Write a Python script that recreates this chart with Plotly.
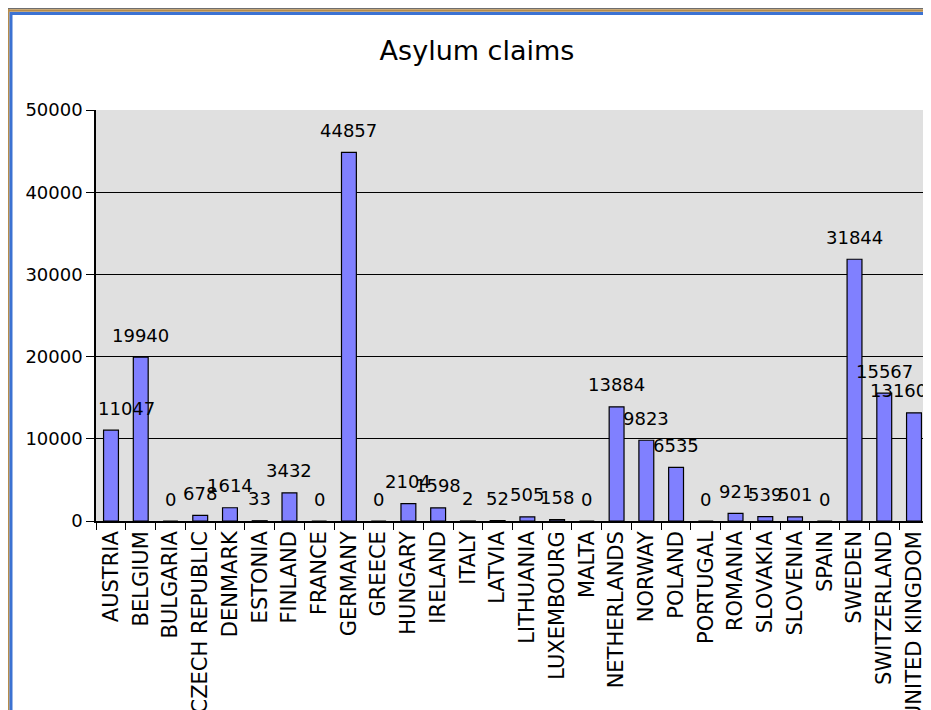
import plotly.graph_objects as go

countries = ["AUSTRIA", "BELGIUM", "BULGARIA", "CZECH REPUBLIC", "DENMARK", "ESTONIA",
             "FINLAND", "FRANCE", "GERMANY", "GREECE", "HUNGARY", "IRELAND", "ITALY",
             "LATVIA", "LITHUANIA", "LUXEMBOURG", "MALTA", "NETHERLANDS", "NORWAY",
             "POLAND", "PORTUGAL", "ROMANIA", "SLOVAKIA", "SLOVENIA", "SPAIN", "SWEDEN",
             "SWITZERLAND", "UNITED KINGDOM"]
claims = [11047, 19940, 0, 678, 1614, 33, 3432, 0, 44857, 0, 2104, 1598, 2, 52, 505,
          158, 0, 13884, 9823, 6535, 0, 921, 539, 501, 0, 31844, 15567, 13160]
y_ticks = [0, 10000, 20000, 30000, 40000, 50000]

# the page body has an 8px default margin; the figure is sized to fill the rest
OFF = 8
W, H = 931 - OFF, 710 - OFF
L, R, T, B = 96 - OFF, 2, 110 - OFF, 189
pw, ph = W - L - R, H - T - B

FONT = "DejaVu Sans"

fig = go.Figure()
fig.add_trace(go.Bar(
    x=countries, y=claims,
    marker=dict(color="#8080FF", line=dict(color="#000000", width=1.2)),
    hoverinfo="x+y",
))

annotations = []
n = len(countries)
for i, (c, v) in enumerate(zip(countries, claims)):
    xa, xs = "center", 0
    if i == 0:
        xa, xs = "left", -15
    elif i == n - 1:
        xa, xs = "right", 15
    annotations.append(dict(
        x=c, y=v, xref="x", yref="y", text=str(v), showarrow=False,
        xanchor=xa, yanchor="middle", xshift=xs, yshift=22,
        font=dict(family=FONT, size=18, color="#000000"),
    ))


def px_x(page_px):
    return (page_px - OFF - L) / pw


def px_y(page_py):
    return (OFF + T + ph - page_py) / ph


shapes = [
    dict(type="line", xref="paper", yref="paper", x0=px_x(7), x1=px_x(940),
         y0=px_y(8.5), y1=px_y(8.5), line=dict(color="#6E6E6E", width=1)),
    dict(type="line", xref="paper", yref="paper", x0=px_x(7), x1=px_x(940),
         y0=px_y(10.5), y1=px_y(10.5), line=dict(color="#B58B4C", width=2.5)),
    dict(type="line", xref="paper", yref="paper", x0=px_x(10), x1=px_x(940),
         y0=px_y(13.5), y1=px_y(13.5), line=dict(color="#3C72D2", width=3)),
    dict(type="line", xref="paper", yref="paper", x0=px_x(8.5), x1=px_x(8.5),
         y0=px_y(9), y1=px_y(720), line=dict(color="#B58B4C", width=2)),
    dict(type="line", xref="paper", yref="paper", x0=px_x(11), x1=px_x(11),
         y0=px_y(12), y1=px_y(720), line=dict(color="#3C72D2", width=3)),
]

fig.update_layout(
    width=W, height=H,
    margin=dict(l=L, r=R, t=T, b=B, autoexpand=False),
    paper_bgcolor="#FFFFFF",
    plot_bgcolor="#E0E0E0",
    bargap=0.5,
    showlegend=False,
    title=dict(text="Asylum claims", x=(477 - OFF) / W, xref="container", xanchor="center",
               y=1 - (51 - OFF) / H, yref="container", yanchor="middle",
               font=dict(family=FONT, size=27, color="#000000")),
    xaxis=dict(
        type="category", tickangle=-90, ticks="outside", tickson="boundaries",
        ticklen=7, tickcolor="#000000", tickwidth=1,
        showline=True, linecolor="#000000", linewidth=1.5, mirror=False,
        showgrid=False, automargin=False,
        tickfont=dict(family=FONT, size=21, color="#000000"),
    ),
    yaxis=dict(
        range=[0, 50000], tickvals=y_ticks, ticktext=[str(t) for t in y_ticks],
        ticks="outside", ticklen=8, tickcolor="#000000", tickwidth=1,
        showline=True, linecolor="#000000", linewidth=1.5, mirror=True,
        showgrid=True, gridcolor="#000000", gridwidth=1,
        zeroline=False, automargin=False,
        tickfont=dict(family=FONT, size=18, color="#000000"),
    ),
    annotations=annotations,
    shapes=shapes,
)

fig.write_html("out.html")
